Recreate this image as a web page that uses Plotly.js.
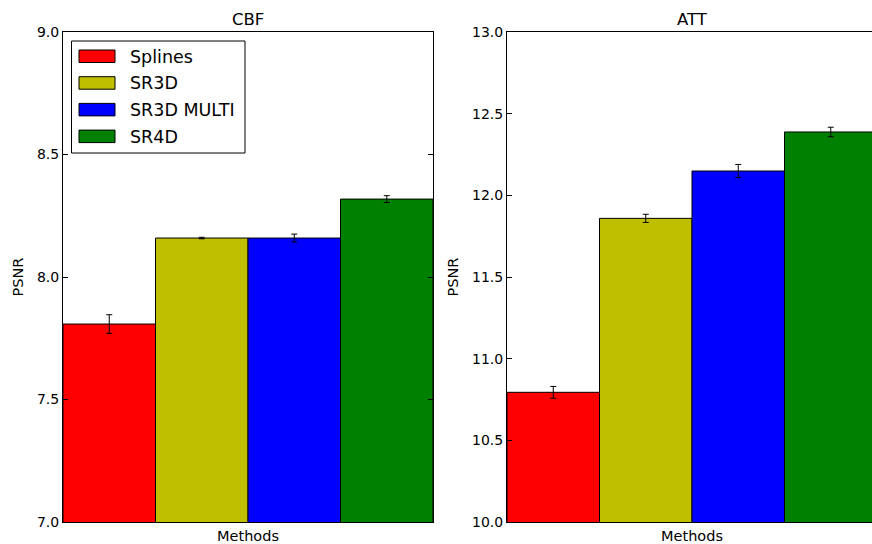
<!DOCTYPE html>
<html>
<head>
<meta charset="utf-8">
<script src="https://cdn.plot.ly/plotly-3.0.1.min.js"></script>
<style>
html, body { margin: 0; padding: 0; overflow: hidden; background: #fff; }
#chart { width: 880px; height: 544px; }
</style>
</head>
<body>
<div id="chart"></div>
<script>
// ---- data ----
const methods = ['Splines', 'SR3D', 'SR3D MULTI', 'SR4D'];
const colors = ['#ff0000', '#bfbf00', '#0000ff', '#008000'];
const cbfValues = [7.808, 8.159, 8.159, 8.318];
const cbfErrors = [0.038, 0.003, 0.016, 0.014];
const attValues = [10.794, 11.859, 12.149, 12.388];
const attErrors = [0.036, 0.025, 0.040, 0.029];
const subplotTitles = ['CBF', 'ATT'];
const xLabel = 'Methods';
const yLabel = 'PSNR';

// ---- layout helpers ----
const W = 880, H = 544;
const px = v => v / W;
const py = v => 1 - v / H;
const FONT = 'DejaVu Sans, sans-serif';
const idx = methods.map((_, i) => i);

function barTrace(vals, errs, xa, ya) {
  return {
    type: 'bar', x: idx, y: vals, width: 1, xaxis: xa, yaxis: ya,
    marker: { color: colors, line: { color: '#000', width: 1 } },
    error_y: { type: 'data', array: errs, visible: true, color: '#000', thickness: 1, width: 3 },
    hovertext: methods, textposition: 'none', hoverinfo: 'text+y', showlegend: false
  };
}

const data = [
  barTrace(cbfValues, cbfErrors, 'x', 'y'),
  barTrace(attValues, attErrors, 'x2', 'y2')
];

function xAxis(domain, anchor) {
  return {
    domain: domain, anchor: anchor, range: [-0.5, methods.length - 0.5],
    showticklabels: false, ticks: '', showgrid: false, zeroline: false,
    showline: true, linecolor: '#000', linewidth: 1, mirror: true, automargin: false,
    title: { text: xLabel, font: { family: FONT, size: 14.5, color: '#000' }, standoff: 9 }
  };
}
function yAxis(range, anchor) {
  return {
    domain: [py(522), py(32)], anchor: anchor, range: range, dtick: 0.5, tickformat: '.1f',
    ticks: 'inside', ticklen: 5, tickcolor: '#000', showgrid: false, zeroline: false,
    showline: true, linecolor: '#000', linewidth: 1, mirror: 'ticks', automargin: false,
    tickfont: { family: FONT, size: 14, color: '#000' },
    title: { text: yLabel, font: { family: FONT, size: 14.5, color: '#000' }, standoff: 9 }
  };
}

// legend drawn in paper coords
const shapes = [{
  type: 'rect', xref: 'paper', yref: 'paper',
  x0: px(71.5), x1: px(245), y0: py(153), y1: py(41),
  line: { color: '#000', width: 1 }, fillcolor: '#fff', layer: 'above'
}];
const annotations = [
  { text: subplotTitles[0], x: px(248), y: py(20), xref: 'paper', yref: 'paper', showarrow: false,
    xanchor: 'center', yanchor: 'middle', font: { family: FONT, size: 16.5, color: '#000' } },
  { text: subplotTitles[1], x: px(692), y: py(20), xref: 'paper', yref: 'paper', showarrow: false,
    xanchor: 'center', yanchor: 'middle', font: { family: FONT, size: 16.5, color: '#000' } }
];
methods.forEach((m, i) => {
  const top = 50 + i * 26.7;
  shapes.push({
    type: 'rect', xref: 'paper', yref: 'paper',
    x0: px(79), x1: px(115), y0: py(top + 12.5), y1: py(top),
    line: { color: '#000', width: 1 }, fillcolor: colors[i], layer: 'above'
  });
  annotations.push({
    text: m, x: px(127.5), y: py(top + 6.5), xref: 'paper', yref: 'paper', showarrow: false,
    xanchor: 'left', yanchor: 'middle', font: { family: FONT, size: 17.5, color: '#000' }
  });
});

const layout = {
  width: W, height: H,
  margin: { l: 0, r: 0, t: 0, b: 0 },
  paper_bgcolor: '#fff', plot_bgcolor: '#fff',
  showlegend: false,
  xaxis: xAxis([px(63), px(433)], 'y'),
  yaxis: yAxis([7, 9], 'x'),
  xaxis2: xAxis([px(507), px(877)], 'y2'),
  yaxis2: yAxis([10, 13], 'x2'),
  shapes: shapes,
  annotations: annotations,
  font: { family: FONT, color: '#000' }
};

Plotly.newPlot('chart', data, layout, { displayModeBar: false, staticPlot: true });
</script>
</body>
</html>
